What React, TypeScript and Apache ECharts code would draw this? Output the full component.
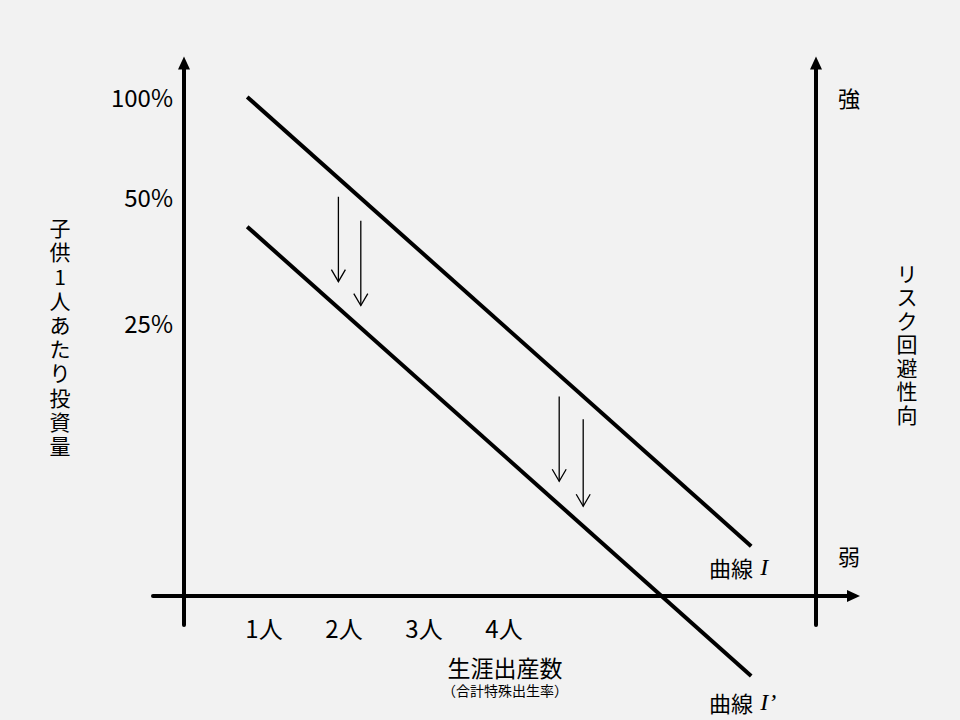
import {useEffect, useRef} from 'react';
import * as echarts from 'echarts';

// x: children per woman (1 unit = one child), y: abstract investment scale
const xTickValues = [1, 2, 3, 4];
const xTickLabels = ['1人', '2人', '3人', '4人'];
const yTickValues = [5.0, 4.0, 2.74];
const yTickLabels = ['100%', '50%', '25%'];
const riskTickValues = [5.0, 0.41];
const riskTickLabels = ['強', '弱'];

const curveX = [0.79, 7.09];
const curveI = [5.0, 0.5];
const curveIPrime = [3.7, -0.8];

// downward shift arrows: x, from, to
const arrowX = [1.93, 2.21, 4.69, 4.99];
const arrowFrom = [4.0, 3.76, 2.0, 1.77];
const arrowTo = [3.15, 2.91, 1.15, 0.9];

const FONT = '"Noto Sans CJK JP", "Noto Sans", sans-serif';
const SERIF = '"Liberation Serif", "DejaVu Serif", serif';

const pick = (values: number[], labels: string[]) => (v: number) => {
    const i = values.findIndex(t => Math.abs(t - v) < 1e-6);
    return i >= 0 ? labels[i] : '';
};

const curveRich = {
    c: {fontSize: 22, fontFamily: FONT, color: '#000'},
    i: {fontSize: 24, fontFamily: SERIF, fontStyle: 'italic', color: '#000', padding: [0, 0, 0, 4]}
};

export default function App() {
    const ref = useRef<HTMLDivElement | null>(null);

    useEffect(() => {
        if (!ref.current) return;
        const chart = echarts.init(ref.current, undefined, {renderer: 'svg'});
        const axisLine = {color: '#000', width: 4};

        chart.setOption({
            animation: false,
            backgroundColor: '#f2f2f2',
            textStyle: {fontFamily: FONT},
            grid: {left: 153, right: 106.5, top: 63, bottom: 95, outerBoundsMode: 'none'},
            xAxis: {
                type: 'value', min: -0.3875, max: 8.36875,
                axisLine: {onZero: true, lineStyle: axisLine, symbol: ['none', 'triangle'], symbolSize: [12, 13]},
                axisTick: {show: false},
                splitLine: {show: false},
                axisLabel: {
                    customValues: xTickValues, formatter: pick(xTickValues, xTickLabels),
                    fontSize: 24, color: '#000', margin: -10, fontFamily: FONT
                }
            },
            yAxis: [
                {
                    type: 'value', min: -0.29, max: 5.34,
                    axisLine: {onZero: true, lineStyle: axisLine, symbol: ['none', 'triangle'], symbolSize: [12, 13]},
                    axisTick: {show: false},
                    splitLine: {show: false},
                    axisLabel: {
                        customValues: yTickValues, formatter: pick(yTickValues, yTickLabels),
                        fontSize: 24, color: '#000', margin: -20, fontFamily: FONT
                    }
                },
                {
                    type: 'value', min: -0.29, max: 5.34, position: 'right', offset: -37.5,
                    axisLine: {onZero: false, lineStyle: axisLine, symbol: ['none', 'triangle'], symbolSize: [12, 13]},
                    axisTick: {show: false},
                    splitLine: {show: false},
                    axisLabel: {
                        customValues: riskTickValues, formatter: pick(riskTickValues, riskTickLabels),
                        fontSize: 22, color: '#000', margin: 22, fontFamily: FONT
                    }
                }
            ],
            series: [
                {
                    name: '曲線I', type: 'line', clip: false, symbol: 'none', silent: true,
                    lineStyle: {color: '#000', width: 4},
                    data: curveX.map((x, i) => [x, curveI[i]])
                },
                {
                    name: '曲線I\'', type: 'line', clip: false, symbol: 'none', silent: true,
                    lineStyle: {color: '#000', width: 4},
                    data: curveX.map((x, i) => [x, curveIPrime[i]])
                },
                {
                    name: 'shift', type: 'custom', silent: true,
                    encode: {x: 0, y: [1, 2]},
                    data: arrowX.map((x, i) => [x, arrowFrom[i], arrowTo[i]]),
                    renderItem: (params: any, api: any) => {
                        const p0 = api.coord([api.value(0), api.value(1)]);
                        const p1 = api.coord([api.value(0), api.value(2)]);
                        const style = {stroke: '#000', lineWidth: 1.3, fill: 'none'};
                        return {
                            type: 'group',
                            children: [
                                {type: 'line', shape: {x1: p0[0], y1: p0[1], x2: p1[0], y2: p1[1]}, style},
                                {
                                    type: 'polyline',
                                    shape: {points: [[p1[0] - 7, p1[1] - 12], [p1[0], p1[1]], [p1[0] + 7, p1[1] - 12]]},
                                    style
                                }
                            ]
                        };
                    }
                }
            ],
            graphic: [
                {
                    type: 'text', x: 60, y: 336,
                    style: {
                        text: '子供1人あたり投資量'.split('').join('\n'), fill: '#000',
                        fontSize: 21, fontFamily: FONT, lineHeight: 24.2,
                        align: 'center', verticalAlign: 'middle', textAlign: 'center', textVerticalAlign: 'middle'
                    }
                },
                {
                    type: 'text', x: 907, y: 343,
                    style: {
                        text: 'リスク回避性向'.split('').join('\n'), fill: '#000',
                        fontSize: 21, fontFamily: FONT, lineHeight: 23.5,
                        align: 'center', verticalAlign: 'middle', textAlign: 'center', textVerticalAlign: 'middle'
                    }
                },
                {
                    type: 'text', x: 505, y: 667,
                    style: {
                        text: '生涯出産数', fill: '#000', fontSize: 23, fontFamily: FONT,
                        align: 'center', verticalAlign: 'middle', textAlign: 'center', textVerticalAlign: 'middle'
                    }
                },
                {
                    type: 'text', x: 505, y: 690,
                    style: {
                        text: '（合計特殊出生率）', fill: '#000', fontSize: 14, fontFamily: FONT,
                        align: 'center', verticalAlign: 'middle', textAlign: 'center', textVerticalAlign: 'middle'
                    }
                },
                {
                    type: 'text', x: 709, y: 567,
                    style: {
                        text: '{c|曲線} {i|I}', fill: '#000',
                        align: 'left', verticalAlign: 'middle', textAlign: 'left', textVerticalAlign: 'middle',
                        rich: curveRich
                    }
                },
                {
                    type: 'text', x: 709, y: 702,
                    style: {
                        text: '{c|曲線} {i|I’}', fill: '#000',
                        align: 'left', verticalAlign: 'middle', textAlign: 'left', textVerticalAlign: 'middle',
                        rich: curveRich
                    }
                }
            ]
        });

        return () => chart.dispose();
    }, []);

    return <div ref={ref} style={{position: 'fixed', left: 0, top: 0, width: 960, height: 720}}/>;
}
